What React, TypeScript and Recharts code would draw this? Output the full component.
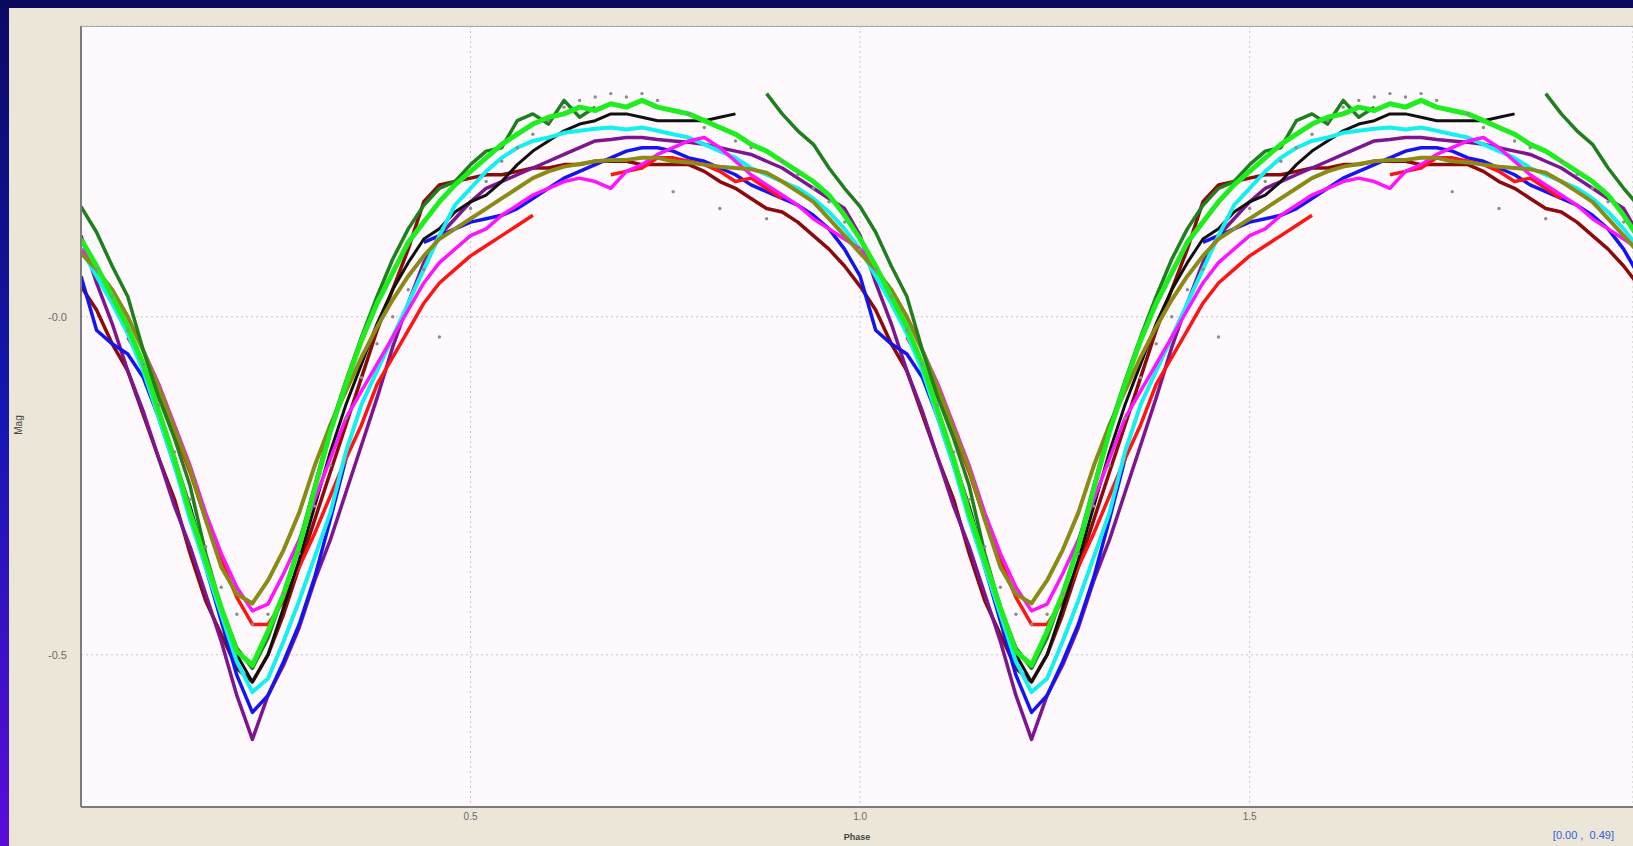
import React from 'react';
import {
  ComposedChart,
  Line,
  Scatter,
  XAxis,
  YAxis,
  CartesianGrid,
} from 'recharts';

// phase grid for one cycle (the chart repeats it for phase 1..2)
const PHASES = [
  0, 0.02, 0.04, 0.06, 0.08, 0.1, 0.12, 0.14, 0.16, 0.18,
  0.2, 0.22, 0.24, 0.26, 0.28, 0.3, 0.32, 0.34, 0.36, 0.38,
  0.4, 0.42, 0.44, 0.46, 0.48, 0.5, 0.52, 0.54, 0.56, 0.58,
  0.6, 0.62, 0.64, 0.66, 0.68, 0.7, 0.72, 0.74, 0.76, 0.78,
  0.8, 0.82, 0.84, 0.86, 0.88, 0.9, 0.92, 0.94, 0.96, 0.98,
];

const X_TICKS = [0.5, 1, 1.5];
const Y_TICKS = [-0.5, 0];

type V = number | null;

const lime: V[] = [
  0.115, 0.075, 0.03, -0.015, -0.07, -0.14, -0.21, -0.29, -0.36, -0.43,
  -0.495, -0.515, -0.465, -0.41, -0.34, -0.255, -0.17, -0.1, -0.035, 0.02,
  0.065, 0.11, 0.14, 0.17, 0.195, 0.215, 0.235, 0.255, 0.27, 0.285,
  0.295, 0.3, 0.31, 0.305, 0.315, 0.31, 0.32, 0.31, 0.305, 0.3,
  0.29, 0.28, 0.27, 0.255, 0.245, 0.23, 0.215, 0.2, 0.18, 0.15,
];

const darkGreen: V[] = [
  0.163, 0.125, 0.075, 0.03, -0.05, -0.12, -0.18, -0.25, -0.35, -0.43,
  -0.49, -0.52, -0.475, -0.41, -0.335, -0.25, -0.165, -0.095, -0.03, 0.03,
  0.085, 0.13, 0.165, 0.19, 0.2, 0.225, 0.245, 0.25, 0.29, 0.3,
  0.285, 0.32, 0.295, 0.31, null, null, null, null, null, null,
  null, null, null, null, 0.33, 0.3, 0.275, 0.255, 0.22, 0.19,
];

const red: V[] = [
  null, null, null, -0.03, -0.07, -0.12, -0.17, -0.23, -0.3, -0.36,
  -0.415, -0.455, -0.455, -0.42, -0.37, -0.32, -0.265, -0.21, -0.16, -0.1,
  -0.06, -0.02, 0.02, 0.05, 0.07, 0.09, 0.105, 0.12, 0.135, 0.15,
  null, null, null, null, 0.21, 0.215, 0.22, 0.235, 0.235, 0.23,
  0.225, 0.215, 0.2, 0.205, 0.19, 0.175, null, null, null, null,
];

const magenta: V[] = [
  0.1, 0.07, 0.04, 0.0, -0.05, -0.1, -0.16, -0.22, -0.29, -0.35,
  -0.4, -0.435, -0.425, -0.38, -0.33, -0.27, -0.21, -0.15, -0.11, -0.07,
  -0.03, 0.01, 0.05, 0.08, 0.1, 0.12, 0.13, 0.15, 0.165, 0.18,
  0.19, 0.2, 0.205, 0.2, 0.19, 0.215, 0.225, 0.24, 0.25, 0.26,
  0.265, 0.25, 0.23, 0.21, 0.195, 0.18, 0.165, 0.145, 0.13, 0.115,
];

const cyan: V[] = [
  0.1, 0.06, 0.02, -0.025, -0.08, -0.15, -0.22, -0.3, -0.37, -0.44,
  -0.51, -0.555, -0.535, -0.48, -0.42, -0.355, -0.29, -0.2, -0.13, -0.08,
  -0.03, 0.02, 0.07, 0.12, 0.165, 0.19, 0.215, 0.235, 0.25, 0.26,
  0.265, 0.272, 0.275, 0.278, 0.28, 0.277, 0.28, 0.275, 0.27, 0.265,
  0.255, 0.245, 0.235, 0.22, 0.21, 0.2, 0.19, 0.175, 0.155, 0.13,
];

const blue: V[] = [
  0.06, -0.02, -0.04, -0.055, -0.09, -0.15, -0.22, -0.29, -0.37, -0.45,
  -0.53, -0.585, -0.56, -0.51, -0.455, -0.385, -0.3, -0.21, null, null,
  null, null, 0.11, 0.12, 0.13, 0.14, 0.145, 0.15, 0.16, 0.175,
  0.19, 0.205, 0.215, 0.225, 0.235, 0.245, 0.25, 0.25, 0.245, 0.235,
  0.23, 0.22, 0.21, 0.195, 0.185, 0.175, 0.165, 0.15, 0.13, 0.1,
];

const purple: V[] = [
  0.12, 0.05, -0.01, -0.08, -0.14, -0.21, -0.28, -0.34, -0.41, -0.48,
  -0.56, -0.625, -0.56, -0.515, -0.46, -0.39, -0.33, -0.26, -0.19, -0.12,
  -0.045, 0.02, 0.08, 0.12, 0.145, 0.17, 0.19, 0.2, 0.21, 0.22,
  0.23, 0.24, 0.25, 0.26, 0.262, 0.265, 0.265, 0.262, 0.26, 0.258,
  0.255, 0.25, 0.245, 0.24, 0.23, 0.22, 0.205, 0.19, 0.175, 0.16,
];

const maroon: V[] = [
  0.045, 0.01, -0.04, -0.08, -0.145, -0.21, -0.27, -0.35, -0.42, -0.47,
  -0.52, -0.54, -0.5, -0.44, -0.37, -0.3, -0.23, -0.16, -0.09, -0.02,
  0.04, 0.1, 0.17, 0.195, 0.2, 0.205, 0.21, 0.21, 0.215, 0.22,
  0.22, 0.225, 0.225, 0.23, 0.23, 0.23, 0.225, 0.225, 0.225, 0.225,
  0.215, 0.2, 0.19, 0.175, 0.16, 0.155, 0.14, 0.12, 0.1, 0.075,
];

const black: V[] = [
  null, null, null, null, null, -0.15, -0.21, -0.28, -0.36, -0.43,
  -0.5, -0.54, -0.5, -0.43, -0.36, -0.28, -0.2, -0.13, -0.07, -0.01,
  0.04, 0.08, 0.115, 0.13, 0.155, 0.17, 0.18, 0.2, 0.225, 0.245,
  0.26, 0.275, 0.285, 0.29, 0.3, 0.3, 0.295, 0.29, 0.29, 0.29,
  0.29, 0.295, 0.3, null, null, null, null, null, null, null,
];

const olive: V[] = [
  0.094, 0.07, 0.04, 0.0, -0.05, -0.105, -0.165, -0.225, -0.3, -0.37,
  -0.41, -0.424, -0.39, -0.345, -0.29, -0.22, -0.16, -0.11, -0.06, -0.015,
  0.025, 0.06, 0.09, 0.115, 0.13, 0.145, 0.16, 0.175, 0.19, 0.205,
  0.215, 0.222, 0.226, 0.23, 0.232, 0.232, 0.235, 0.235, 0.23, 0.228,
  0.225, 0.222, 0.22, 0.218, 0.213, 0.2, 0.185, 0.17, 0.145, 0.12,
];

const gray: V[] = [
  0.1, 0.07, 0.03, -0.02, -0.07, -0.13, -0.2, -0.27, -0.34, -0.4,
  -0.44, -0.455, -0.44, -0.41, -0.35, -0.28, -0.22, -0.15, -0.09, -0.04,
  0.0, 0.04, 0.07, -0.03, 0.13, 0.16, 0.2, 0.23, 0.25, 0.27,
  0.29, 0.31, 0.32, 0.325, 0.33, 0.325, 0.33, 0.32, 0.185, 0.3,
  0.28, 0.16, 0.26, 0.25, 0.145, 0.23, 0.21, 0.19, 0.17, 0.14,
];

// fold one cycle into phase 0..2
function twoCycles(values: V[]) {
  const first = PHASES.map((p, i) => ({ x: p, y: values[i] }));
  const second = PHASES.map((p, i) => ({ x: p + 1, y: values[i] }));
  return [...first, ...second, { x: 2, y: values[0] }];
}

const curves = [
  { key: 'maroon', color: '#8c0a0a', width: 3.5, values: maroon },
  { key: 'purple', color: '#7d1590', width: 3.5, values: purple },
  { key: 'blue', color: '#1414f0', width: 3.5, values: blue },
  { key: 'red', color: '#ff1414', width: 3.5, values: red },
  { key: 'black', color: '#101010', width: 3, values: black },
  { key: 'cyan', color: '#14f0f0', width: 4, values: cyan },
  { key: 'magenta', color: '#ff14ff', width: 3.5, values: magenta },
  { key: 'olive', color: '#8a8a14', width: 4, values: olive },
  { key: 'darkGreen', color: '#1f7f1f', width: 3.5, values: darkGreen },
  { key: 'lime', color: '#1eee1e', width: 5, values: lime },
];

const grayDots = twoCycles(gray).filter((d) => d.y !== null);

const formatY = (v: number) => (v === 0 ? '-0.0' : v.toFixed(1));
const formatX = (v: number) => v.toFixed(1);

const MagLabel = () => (
  <text
    x={19}
    y={425}
    transform="rotate(-90 19 425)"
    textAnchor="middle"
    dominantBaseline="middle"
    fontSize={10}
    fill="#444"
  >
    Mag
  </text>
);

export default function App() {
  return (
    <div
      style={{
        position: 'absolute',
        left: 0,
        top: 0,
        width: 1633,
        height: 846,
        overflow: 'hidden',
        background: 'linear-gradient(to bottom, #0a0a62 0%, #1616b4 50%, #5a0cd6 100%)',
        fontFamily: '"Liberation Sans", Arial, sans-serif',
      }}
    >
      <div
        style={{
          position: 'absolute',
          left: 0,
          top: 0,
          width: 1633,
          height: 8,
          background: '#0a0a5c',
        }}
      />
      <div
        style={{
          position: 'absolute',
          left: 9,
          top: 8,
          width: 1624,
          height: 838,
          background: '#ebe6d8',
        }}
      />
      <div style={{ position: 'absolute', left: 0, top: 0 }}>
        <ComposedChart
          width={1633}
          height={846}
          margin={{ top: 26, right: 0, bottom: 0, left: 9 }}
        >
          <CartesianGrid
            fill="#fef9fd"
            stroke="#c9c4c4"
            strokeDasharray="2 3"
          />
          <XAxis
            type="number"
            dataKey="x"
            domain={[0, 1.992]}
            ticks={X_TICKS}
            tickFormatter={formatX}
            allowDataOverflow
            height={39}
            tickSize={0}
            tickMargin={6}
            axisLine={{ stroke: '#7c7c7c', strokeWidth: 2 }}
            tick={{ fontSize: 10, fill: '#6a6a6a' }}
            label={{ value: 'Phase', position: 'insideBottom', offset: 6, fontSize: 9, fill: '#444', fontWeight: 'bold' }}
          />
          <YAxis
            type="number"
            dataKey="y"
            domain={[-0.725, 0.43]}
            ticks={Y_TICKS}
            tickFormatter={formatY}
            allowDataOverflow
            width={72}
            tickSize={0}
            tickMargin={14}
            axisLine={{ stroke: '#7c7c7c', strokeWidth: 2 }}
            tick={{ fontSize: 11, fill: '#6a6a6a' }}
            label={{ content: MagLabel }}
          />
          {curves.map((c) => (
            <Line
              key={c.key}
              data={twoCycles(c.values)}
              dataKey="y"
              type="linear"
              stroke={c.color}
              strokeWidth={c.width}
              strokeLinejoin="round"
              dot={false}
              activeDot={false}
              connectNulls={false}
              isAnimationActive={false}
            />
          ))}
          <Scatter
            data={grayDots}
            dataKey="y"
            fill="#8c8c8c"
            shape={(p: any) => <circle cx={p.cx} cy={p.cy} r={1.7} fill="#8c8c8c" />}
            isAnimationActive={false}
          />
        </ComposedChart>
      </div>
      <div
        style={{
          position: 'absolute',
          left: 81,
          top: 26,
          width: 1560,
          height: 0,
          borderTop: '1px solid #a8a8a8',
        }}
      />
      <div
        style={{
          position: 'absolute',
          right: 19,
          top: 829,
          fontSize: 11,
          color: '#2f5fd8',
          whiteSpace: 'pre',
        }}
      >
        [0.00 ,  0.49]
      </div>
    </div>
  );
}
